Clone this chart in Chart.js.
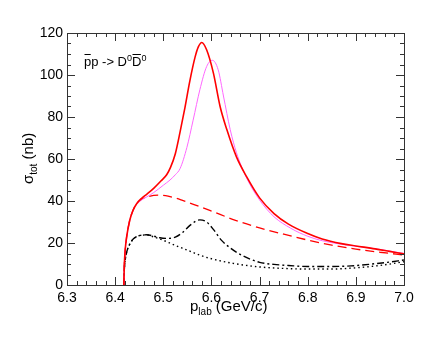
<!DOCTYPE html>
<html>
<head>
<meta charset="utf-8">
<script src="https://cdn.jsdelivr.net/npm/chart.js@4/dist/chart.umd.min.js"></script>
<style>
  html, body { margin: 0; padding: 0; background: #fff; }
  #wrap { width: 436px; height: 337px; }
</style>
</head>
<body>
<div id="wrap"><canvas id="xsChart" width="436" height="337"></canvas></div>
<script>
// momentum grids (GeV/c) and cross sections (nb)
const pTotal = [6.418, 6.419, 6.421, 6.424, 6.43, 6.437, 6.445, 6.455, 6.466, 6.48, 6.495, 6.507, 6.515, 6.525, 6.535, 6.545, 6.555, 6.566, 6.573, 6.58, 6.59, 6.604, 6.618, 6.632, 6.652, 6.673, 6.7, 6.73, 6.76, 6.8, 6.83, 6.87, 6.9, 6.94, 6.97, 7.0];
const sigTotal = [0, 9, 17, 23, 30.5, 35.5, 38.8, 41.3, 43.3, 46, 49.5, 52.5, 56, 62.5, 73, 84.5, 97, 108.5, 113.5, 115.5, 112, 101, 85, 74, 61, 51.6, 41.5, 34, 29, 24.5, 21.9, 19.7, 18.6, 17.2, 16, 14.8];

const pShift = [6.418, 6.419, 6.421, 6.424, 6.43, 6.437, 6.445, 6.455, 6.466, 6.48, 6.5, 6.514, 6.525, 6.535, 6.549, 6.562, 6.576, 6.59, 6.602, 6.614, 6.625, 6.639, 6.652, 6.673, 6.7, 6.73, 6.765, 6.8, 6.83, 6.87, 6.9, 6.94, 6.97, 7.0];
const sigShift = [0, 9, 17, 23, 30.5, 35.5, 38.6, 40.5, 42, 44, 47.5, 50, 52.5, 55.5, 65.5, 78.5, 93, 104, 107, 102.5, 90, 74, 63, 51, 40.5, 32.5, 27, 23.2, 21.1, 19.4, 18.4, 17.3, 16.2, 15];

const pNoRes = [6.418, 6.419, 6.421, 6.424, 6.43, 6.437, 6.445, 6.455, 6.47, 6.49, 6.51, 6.54, 6.57, 6.6, 6.65, 6.7, 6.75, 6.8, 6.85, 6.9, 6.95, 7.0];
const sigNoRes = [0, 9, 17, 23, 30.5, 35.5, 38.6, 40.8, 42.2, 42.8, 42.3, 40.3, 37.8, 35.2, 30.8, 27.2, 24.2, 21.4, 19, 17.1, 15.6, 14.3];

const pPart = [6.418, 6.419, 6.421, 6.425, 6.43, 6.438, 6.45, 6.466, 6.48, 6.493, 6.51, 6.525, 6.54, 6.556, 6.576, 6.59, 6.604, 6.62, 6.64, 6.666, 6.7, 6.73, 6.76, 6.8, 6.85, 6.89, 6.93, 6.965, 7.0];
const sigPart = [0, 7, 12, 16.5, 19.3, 22, 23.5, 23.9, 23.3, 22.5, 22.2, 22.8, 25, 28.5, 31, 30, 26.5, 21.5, 17.5, 13.8, 10.8, 9.8, 9.3, 8.8, 8.8, 9.1, 9.9, 10.8, 11.9];

const pBg = [6.418, 6.419, 6.421, 6.425, 6.43, 6.438, 6.45, 6.466, 6.48, 6.5, 6.521, 6.55, 6.576, 6.6, 6.645, 6.7, 6.75, 6.8, 6.85, 6.9, 6.95, 7.0];
const sigBg = [0, 7, 12, 16.5, 19.3, 22, 23.5, 23.8, 22.9, 21.3, 19.2, 16.6, 14.2, 12.5, 10.3, 8.6, 7.9, 7.6, 7.6, 8.2, 9.3, 11.1];

const xTicks = [6.3, 6.4, 6.5, 6.6, 6.7, 6.8, 6.9, 7.0];
const yTicks = [0, 20, 40, 60, 80, 100, 120];

function pts(xs, ys) {
    return xs.map((x, i) => ({ x: x, y: ys[i] }));
}

const FONT = "'Liberation Sans', Arial, sans-serif";

// frame with inward ticks on all four sides, plus the ROOT-style text
const frameAndText = {
    id: 'frameAndText',
    afterDraw(chart) {
        const ctx = chart.ctx;
        const a = chart.chartArea;
        const xs = chart.scales.x, ys = chart.scales.y;
        ctx.save();
        ctx.strokeStyle = '#333';
        ctx.lineWidth = 1;
        ctx.strokeRect(Math.round(a.left) + 0.5, Math.round(a.top) + 0.5, Math.round(a.right - a.left), Math.round(a.bottom - a.top));
        ctx.beginPath();
        for (let i = 0; i <= 35; i++) {
            const v = 6.3 + i * 0.02;
            const px = Math.round(xs.getPixelForValue(v)) + 0.5;
            const len = (i % 5 === 0) ? 8 : 4;
            ctx.moveTo(px, a.bottom); ctx.lineTo(px, a.bottom - len);
            ctx.moveTo(px, a.top); ctx.lineTo(px, a.top + len);
        }
        for (let i = 0; i <= 24; i++) {
            const v = i * 5;
            const py = Math.round(ys.getPixelForValue(v)) + 0.5;
            const len = (i % 4 === 0) ? 8 : 4;
            ctx.moveTo(a.left, py); ctx.lineTo(a.left + len, py);
            ctx.moveTo(a.right, py); ctx.lineTo(a.right - len, py);
        }
        ctx.stroke();

        ctx.fillStyle = '#000';
        ctx.textBaseline = 'alphabetic';
        ctx.textAlign = 'left';

        // pbar p -> D0 D0bar
        let x = 84, base = 66;
        const big = '13px ' + FONT, small = '9px ' + FONT;
        function seg(text, font, dy, over) {
            ctx.font = font;
            const w = ctx.measureText(text).width;
            ctx.fillText(text, x, base + dy);
            if (over) {
                ctx.fillRect(x + 0.5, 54, w - 1, 1);
            }
            x += w;
        }
        seg('p', big, 0, true);
        seg('p -> D', big, 0, false);
        seg('0', small, -5, false);
        seg('D', big, 0, true);
        seg('0', small, -5, false);

        // x axis title
        x = 190; base = 311;
        seg('p', '15px ' + FONT, 0, false);
        seg('lab', '10px ' + FONT, 4, false);
        seg(' (GeV/c)', '15px ' + FONT, 0, false);

        // y axis title, rotated
        ctx.save();
        ctx.translate(33, 184);
        ctx.rotate(-Math.PI / 2);
        x = 0; base = 0;
        seg('\u03c3', '15px ' + FONT, 0, false);
        seg('tot', '10px ' + FONT, 4, false);
        seg(' (nb)', '15px ' + FONT, 0, false);
        ctx.restore();
        ctx.restore();
    }
};

new Chart(document.getElementById('xsChart').getContext('2d'), {
    type: 'line',
    data: {
        datasets: [
            { data: pts(pTotal, sigTotal), borderColor: '#ff0000', borderWidth: 1.6, order: 0 },
            { data: pts(pShift, sigShift), borderColor: '#ff66ff', borderWidth: 1, order: 1 },
            { data: pts(pNoRes, sigNoRes), borderColor: '#ff0000', borderWidth: 1.3, borderDash: [9, 5], order: 2 },
            { data: pts(pPart, sigPart), borderColor: '#000000', borderWidth: 1.4, borderDash: [7, 3, 2, 3], order: 3 },
            { data: pts(pBg, sigBg), borderColor: '#000000', borderWidth: 1.4, borderDash: [1.5, 3], order: 4 }
        ]
    },
    options: {
        responsive: false,
        animation: false,
        elements: {
            point: { radius: 0 },
            line: { cubicInterpolationMode: 'monotone', fill: false }
        },
        layout: { padding: { left: 0, right: 32, top: 33, bottom: 0 } },
        plugins: { legend: { display: false }, tooltip: { enabled: false } },
        scales: {
            x: {
                type: 'linear', min: 6.3, max: 7.0,
                grid: { display: false, drawTicks: false },
                border: { display: false },
                afterBuildTicks: (s) => { s.ticks = xTicks.map(v => ({ value: v })); },
                afterFit: (s) => { s.height = 52; },
                ticks: {
                    padding: 5, color: '#000', font: { family: FONT, size: 14 },
                    maxRotation: 0, autoSkip: false,
                    callback: (v) => v.toFixed(1)
                }
            },
            y: {
                type: 'linear', min: 0, max: 120,
                grid: { display: false, drawTicks: false },
                border: { display: false },
                afterBuildTicks: (s) => { s.ticks = yTicks.map(v => ({ value: v })); },
                afterFit: (s) => { s.width = 67; },
                ticks: {
                    padding: 4, color: '#000', font: { family: FONT, size: 14 },
                    autoSkip: false
                }
            }
        }
    },
    plugins: [frameAndText]
});
</script>
</body>
</html>
